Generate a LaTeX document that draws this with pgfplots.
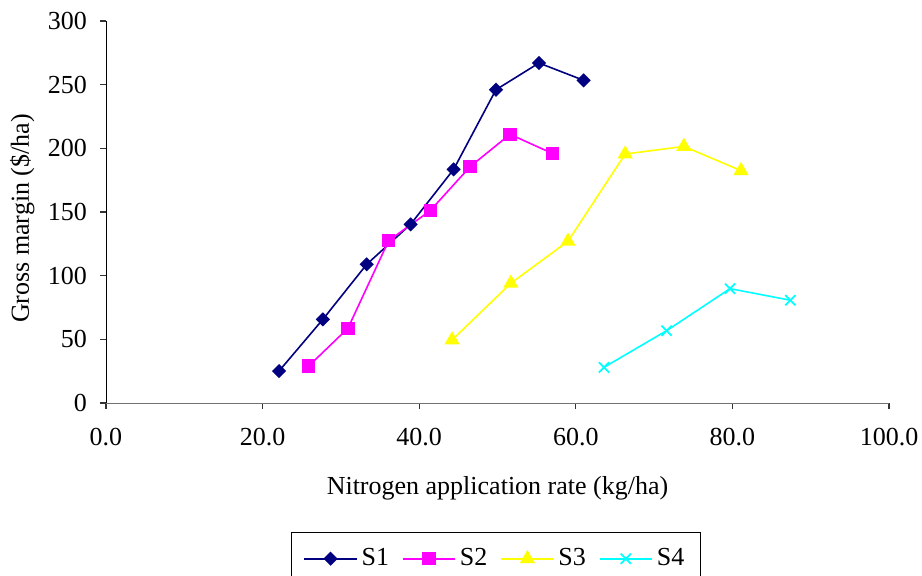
\documentclass[border=0pt]{standalone}
\usepackage{pgfplots}
\pgfplotsset{compat=1.18}
\usepackage{fontspec}
\setmainfont{Liberation Serif}

\definecolor{sone}{RGB}{0,0,128}
\definecolor{stwo}{RGB}{255,0,255}
\definecolor{sthree}{RGB}{255,255,0}
\definecolor{sfour}{RGB}{0,255,255}

\begin{document}
\begin{tikzpicture}[font=\fontsize{13}{15.6}\selectfont]
\useasboundingbox (0,0) rectangle (461pt,288pt);
\begin{axis}[
  at={(53pt,86.5pt)}, anchor=south west,
  scale only axis, width=391.5pt, height=191pt,
  xmin=0, xmax=100, ymin=0, ymax=300,
  axis lines*=left,
  x axis line style={draw=black!55},
  xtick={0,20,...,100}, ytick={0,50,...,300},
  tick align=outside, major tick length=3pt,
  tick style={black!80, line width=0.6pt},
  xticklabel style={/pgf/number format/fixed, /pgf/number format/fixed zerofill, /pgf/number format/precision=1, yshift=-6pt},
  yticklabel style={xshift=-3pt},
  /pgf/number format/assume math mode=true,
  xlabel={Nitrogen application rate (kg/ha)},
  ylabel={Gross margin (\$/ha)},
  xlabel style={at={(axis description cs:0.5,-0.2225)}, anchor=center},
  ylabel style={at={(axis description cs:-0.107,0.483)}, anchor=center, rotate=0},
  legend columns=4,
  legend style={at={(axis description cs:0.498,-0.3377)}, anchor=north,
    draw=black, line width=0.6pt, inner xsep=6pt, inner ysep=6pt,
    /tikz/every even column/.append style={column sep=4.5pt}},
  legend image code/.code={\draw[mark repeat=2,mark phase=2] plot coordinates {(0cm,0cm)(0.46cm,0cm)(0.92cm,0cm)};},
  every axis plot/.append style={line width=0.8pt},
]
\addplot[sone, mark=square*, mark size=2.1pt, mark options={rotate=45, solid}] coordinates {
  (22.1,25.1) (27.7,65.7) (33.3,108.9) (38.9,140.3) (44.4,183.5) (49.8,246) (55.3,267) (61.0,253.4)
};
\addlegendentry{S1}
\addplot[stwo, mark=square*, mark size=2.9pt] coordinates {
  (25.9,29.1) (30.9,58.7) (36.1,127.5) (41.4,151) (46.5,185.6) (51.6,211) (57.0,196)
};
\addlegendentry{S2}
\addplot[sthree, mark=triangle*, mark size=3.6pt] coordinates {
  (44.2,49.5) (51.7,94) (59.0,127) (66.3,195.5) (73.8,201.5) (81.1,182.5)
};
\addlegendentry{S3}
\addplot[sfour, mark=x, mark size=3.6pt, mark options={line width=0.9pt}] coordinates {
  (63.6,28) (71.6,56.8) (79.7,89.8) (87.4,80.7)
};
\addlegendentry{S4}
\end{axis}
\end{tikzpicture}
\end{document}
